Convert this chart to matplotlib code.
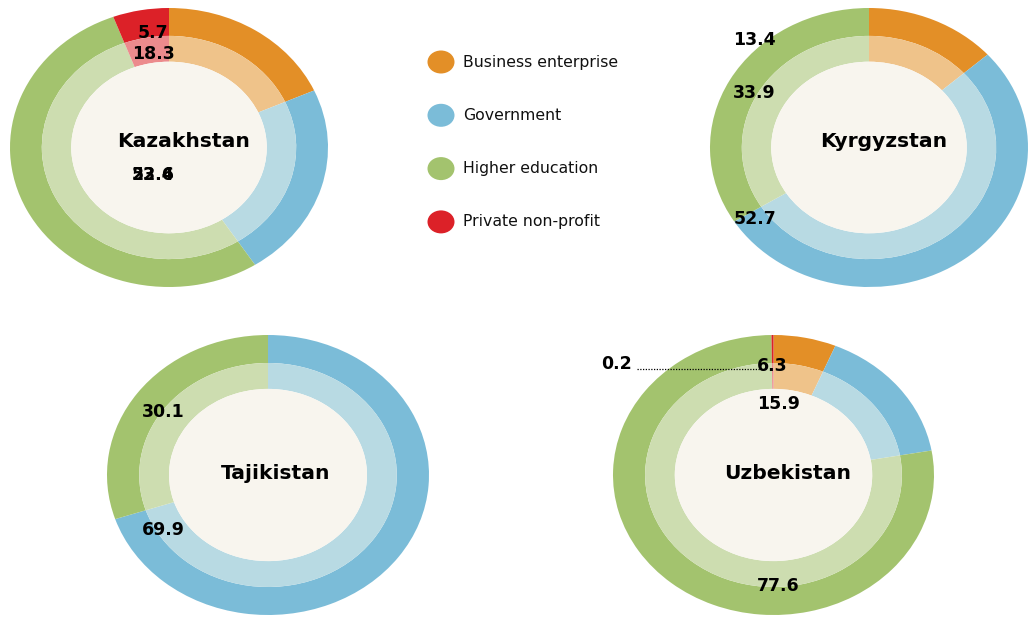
import matplotlib
matplotlib.use("Agg")
import matplotlib.pyplot as plt
from matplotlib.patches import Ellipse, Circle

W, H = 1029, 617

categories = ["Business enterprise", "Government", "Higher education", "Private non-profit"]
outer_colors = ["#E38F27", "#7BBCD8", "#A3C36E", "#DC2128"]
inner_colors = ["#EFC38A", "#B8DAE3", "#CDDDB0", "#EC8B8D"]

countries = ["Kazakhstan", "Kyrgyzstan", "Tajikistan", "Uzbekistan"]
kazakhstan = [18.3, 22.6, 53.4, 5.7]
kyrgyzstan = [13.4, 52.7, 33.9, 0.0]
tajikistan = [0.0, 69.9, 30.1, 0.0]
uzbekistan = [6.3, 15.9, 77.6, 0.2]
values = [kazakhstan, kyrgyzstan, tajikistan, uzbekistan]

# label text as shown in the reference (one per drawn label)
label_texts = [
    ["5.7", "18.3", "22.6", "53.4"],
    ["13.4", "33.9", "52.7"],
    ["30.1", "69.9"],
    ["6.3", "15.9", "77.6", "0.2"],
]
# label positions in each donut's unit coordinates
label_pos = [
    [(-0.10, 0.82), (-0.10, 0.67), (-0.10, -0.20), (-0.10, -0.20)],
    [(-0.72, 0.77), (-0.72, 0.39), (-0.72, -0.51)],
    [(-0.65, 0.45), (-0.65, -0.39)],
    [(-0.01, 0.78), (0.03, 0.51), (0.03, -0.79), (-0.98, 0.79)],
]
title_pos = [(0.09, 0.04), (0.09, 0.04), (0.05, 0.01), (0.09, 0.01)]

# donut bounding boxes in pixels: left, top, right, bottom
boxes = [(10, 8, 328, 287), (710, 8, 1028, 287), (107, 335, 429, 615), (613, 335, 934, 615)]

fig = plt.figure(figsize=(W / 100, H / 100), dpi=100)
fig.patch.set_facecolor("white")

for i, name in enumerate(countries):
    l, t, r, b = boxes[i]
    ax = fig.add_axes([l / W, 1 - b / H, (r - l) / W, (b - t) / H])
    vals = values[i]
    ax.pie(vals, colors=outer_colors, startangle=90, counterclock=False, radius=1.0,
           wedgeprops=dict(width=0.2, linewidth=0), normalize=True)
    ax.pie(vals, colors=inner_colors, startangle=90, counterclock=False, radius=0.8,
           wedgeprops=dict(width=0.185, linewidth=0), normalize=True)
    ax.add_patch(Circle((0, 0), 0.615, facecolor="#F8F5EE", edgecolor="none", zorder=3))
    ax.set_aspect("auto")
    ax.set_xlim(-1, 1)
    ax.set_ylim(-1, 1)
    ax.axis("off")
    tx, ty = title_pos[i]
    ax.text(tx, ty, name, ha="center", va="center", fontsize=14.6, fontweight="bold",
            color="black", zorder=5)
    for txt, (x, y) in zip(label_texts[i], label_pos[i]):
        ax.text(x, y, txt, ha="center", va="center", fontsize=12.5, fontweight="bold",
                color="black", zorder=6)
    if name == "Uzbekistan":
        ax.plot([-0.85, -0.08], [0.755, 0.755], linestyle=(0, (1, 1.2)), color="black",
                linewidth=0.9, zorder=6)

# legend
lax = fig.add_axes([0, 0, 1, 1])
lax.set_xlim(0, W)
lax.set_ylim(H, 0)
lax.axis("off")
lax.patch.set_alpha(0)
for k, cat in enumerate(categories):
    y = 62 + k * 53.3
    lax.add_patch(Ellipse((441, y), 27, 23, facecolor=outer_colors[k], edgecolor="none"))
    lax.text(463, y, cat, ha="left", va="center", fontsize=11.3, color="#111111")

fig.savefig("out.png", dpi=100, facecolor="white")
